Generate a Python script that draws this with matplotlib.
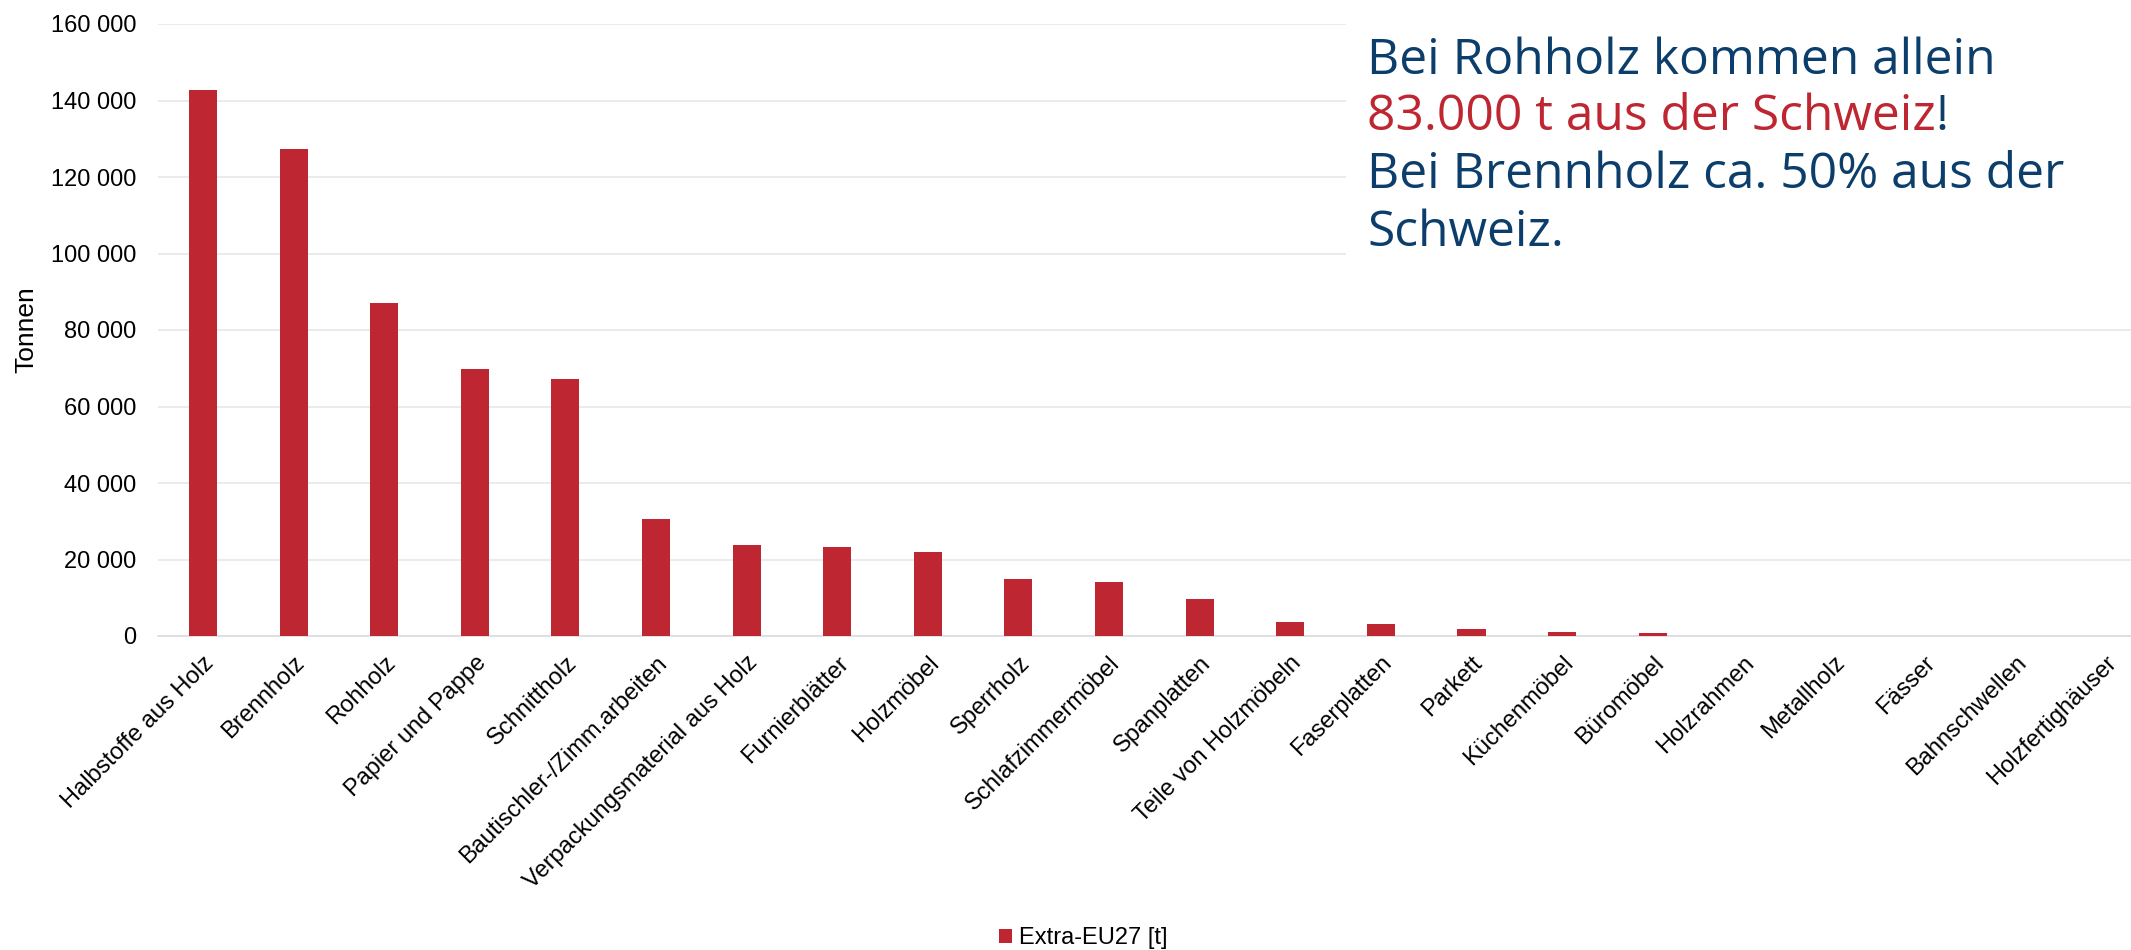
import matplotlib
matplotlib.use("Agg")
import matplotlib.pyplot as plt
from matplotlib.ticker import FuncFormatter, MultipleLocator
from matplotlib.patches import Rectangle

# Daten
kategorien = ["Halbstoffe aus Holz", "Brennholz", "Rohholz", "Papier und Pappe",
              "Schnittholz", "Bautischler-/Zimm.arbeiten", "Verpackungsmaterial aus Holz",
              "Furnierblätter", "Holzmöbel", "Sperrholz", "Schlafzimmermöbel",
              "Spanplatten", "Teile von Holzmöbeln", "Faserplatten", "Parkett",
              "Küchenmöbel", "Büromöbel", "Holzrahmen", "Metallholz", "Fässer",
              "Bahnschwellen", "Holzfertighäuser"]
extra_eu27 = [142700, 127200, 87100, 69700, 67100, 30500, 23700, 23350, 21850,
              14980, 14190, 9800, 3660, 3220, 1830, 1050, 700, 0, 0, 0, 0, 0]
serie_name = "Extra-EU27 [t]"

rot = "#BE2631"
blau = "#0C3E6C"
W, H = 2131, 950

plt.rcParams['font.family'] = ['Liberation Sans', 'DejaVu Sans']
fig = plt.figure(figsize=(W / 100, H / 100), dpi=100)
ax = fig.add_axes([157.7 / W, (H - 636) / H, (2151 - 157.7) / W, (636 - 24) / H])

x = range(len(kategorien))
ax.bar(x, extra_eu27, width=0.31, color=rot, zorder=3, label=serie_name)

ax.set_xlim(-0.5, len(kategorien) - 0.5)
ax.set_ylim(0, 160000)
ax.yaxis.set_major_locator(MultipleLocator(20000))
ax.yaxis.set_major_formatter(FuncFormatter(lambda v, p: f"{v:,.0f}".replace(",", " ")))
ax.grid(axis="y", color="#E6E6E6", linewidth=1.1, zorder=0)
for s in ["top", "right", "left"]:
    ax.spines[s].set_visible(False)
ax.spines["bottom"].set_color("#D9D9D9")
ax.spines["bottom"].set_linewidth(1.1)
ax.tick_params(axis="both", length=0, labelsize=17, colors="black")
ax.tick_params(axis="y", pad=15.5)
ax.tick_params(axis="x", pad=11.5)

ax.set_xticks(list(x))
ax.set_xticklabels(kategorien, rotation=45, ha="right", va="top", rotation_mode="anchor")

ax.set_ylabel("Tonnen", fontsize=19)
ax.yaxis.set_label_coords((38 - 157.7) / (2151 - 157.7), 0.5)

# weisse Fläche hinter dem Hinweistext
fig.patches.append(Rectangle((1346 / W, (H - 270) / H), 1, 270 / H,
                             transform=fig.transFigure, facecolor="white",
                             edgecolor="none", zorder=5))

fs = 35.8
x0 = 1367 / W
zeilen_y = [74, 130, 188, 246]
fig.text(x0, (H - zeilen_y[0]) / H, "Bei Rohholz kommen allein", color=blau,
         fontsize=fs, family="Open Sans", va="baseline", zorder=6)
t_rot = fig.text(x0, (H - zeilen_y[1]) / H, "83.000 t aus der Schweiz", color=rot,
                 fontsize=fs, family="Open Sans", va="baseline", zorder=6)
fig.canvas.draw()
bb = t_rot.get_window_extent()
fig.text(bb.x1 / W, (H - zeilen_y[1]) / H, "!", color=blau,
         fontsize=fs, family="Open Sans", va="baseline", zorder=6)
fig.text(x0, (H - zeilen_y[2]) / H, "Bei Brennholz ca. 50% aus der", color=blau,
         fontsize=fs, family="Open Sans", va="baseline", zorder=6)
fig.text(x0, (H - zeilen_y[3]) / H, "Schweiz.", color=blau,
         fontsize=fs, family="Open Sans", va="baseline", zorder=6)

fig.legend(loc="center", bbox_to_anchor=(1083 / W, 12 / H), frameon=False,
           fontsize=17, handlelength=0.55, handleheight=0.55, handletextpad=0.3)

fig.savefig("out.png", dpi=100)
